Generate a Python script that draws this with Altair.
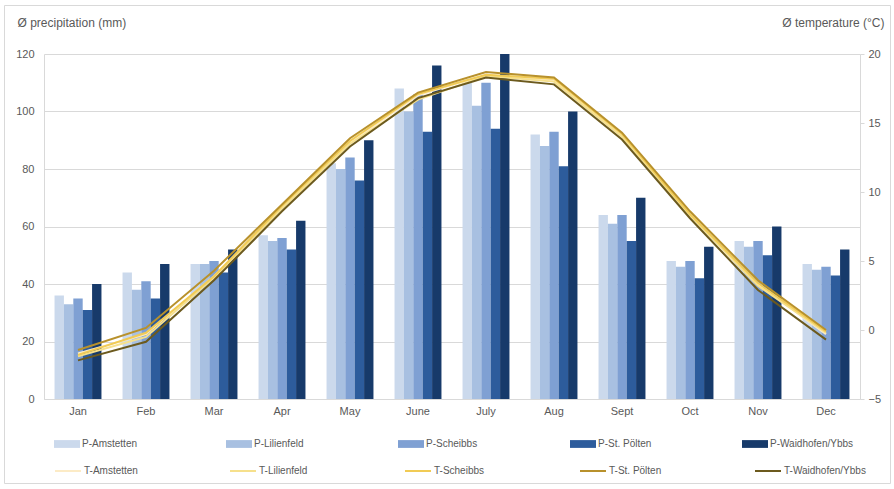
import altair as alt
import pandas as pd

months = ["Jan", "Feb", "Mar", "Apr", "May", "June", "July", "Aug", "Sept", "Oct", "Nov", "Dec"]
stations = ["Amstetten", "Lilienfeld", "Scheibbs", "St. Pölten", "Waidhofen/Ybbs"]

# precipitation (mm)
p_amstetten = [36, 44, 47, 57, 82, 108, 110, 92, 64, 48, 55, 47]
p_lilienfeld = [33, 38, 47, 55, 80, 100, 102, 88, 61, 46, 53, 45]
p_scheibbs = [35, 41, 48, 56, 84, 106, 110, 93, 64, 48, 55, 46]
p_stpoelten = [31, 35, 44, 52, 76, 93, 94, 81, 55, 42, 50, 43]
p_waidhofen = [40, 47, 52, 62, 90, 116, 120, 100, 70, 53, 60, 52]

# temperature (°C)
t_amstetten = [-1.7, -0.3, 3.9, 8.9, 13.6, 17.0, 18.5, 18.1, 14.1, 8.4, 3.3, -0.3]
t_lilienfeld = [-1.9, -0.5, 3.8, 8.8, 13.5, 16.7, 18.4, 18.0, 14.0, 8.3, 3.2, -0.2]
t_scheibbs = [-1.8, -0.2, 3.9, 9.0, 13.7, 17.1, 18.5, 18.2, 14.2, 8.4, 3.4, -0.1]
t_stpoelten = [-1.45, 0.15, 4.3, 9.1, 13.9, 17.2, 18.7, 18.3, 14.3, 8.6, 3.6, 0.0]
t_waidhofen = [-2.2, -0.85, 3.6, 8.6, 13.3, 16.8, 18.3, 17.8, 13.8, 8.1, 2.9, -0.7]

p_series = ["P-" + s for s in stations]
t_series = ["T-" + s for s in stations]
p_colors = ["#CBD9EC", "#A8C0E1", "#7FA0D3", "#2D5C9C", "#173A6A"]
t_colors = ["#FCEBC6", "#F6E08C", "#F1CB55", "#B8912C", "#6C5A1E"]

p_values = [p_amstetten, p_lilienfeld, p_scheibbs, p_stpoelten, p_waidhofen]
t_values = [t_amstetten, t_lilienfeld, t_scheibbs, t_stpoelten, t_waidhofen]

p_rows = []
for name, vals in zip(p_series, p_values):
    for m, v in zip(months, vals):
        p_rows.append({"month": m, "series": name, "value": v})
t_rows = []
for name, vals in zip(t_series, t_values):
    for m, v in zip(months, vals):
        t_rows.append({"month": m, "series": name, "temp": v})
df_p = pd.DataFrame(p_rows)
df_t = pd.DataFrame(t_rows)

txt = "#595959"
grid = "#D9D9D9"

x_enc = alt.X(
    "month:N", sort=months,
    scale=alt.Scale(paddingInner=0.31, paddingOuter=0.155),
    axis=alt.Axis(title=None, labelAngle=0, ticks=False, domainColor=grid,
                  labelColor=txt, labelFontSize=11, labelPadding=6),
)

bars = alt.Chart(df_p).mark_bar().encode(
    x=x_enc,
    xOffset=alt.XOffset("series:N", sort=p_series, scale=alt.Scale(domain=p_series, paddingInner=0, paddingOuter=0)),
    y=alt.Y("value:Q",
            scale=alt.Scale(domain=[0, 120], nice=False, zero=True),
            axis=alt.Axis(values=[0, 20, 40, 60, 80, 100, 120], title="Ø precipitation (mm)",
                          titleAngle=0, titleAlign="left", titleBaseline="middle",
                          titleX=-27, titleY=-32, titleFontSize=12, titleFontWeight="normal",
                          titleColor=txt, ticks=False, domainColor=grid, gridColor=grid,
                          labelColor=txt, labelFontSize=11, labelPadding=10)),
    fill=alt.Fill("series:N",
                  scale=alt.Scale(domain=p_series, range=p_colors),
                  legend=alt.Legend(orient="none", legendX=10, legendY=377, direction="horizontal",
                                    columns=5, title=None, gridAlign="all", columnPadding=60,
                                    symbolType="M-1,-0.3H1V0.3H-1Z", symbolSize=676,
                                    symbolStrokeWidth=0, labelOffset=2, padding=0,
                                    labelFontSize=10, labelColor=txt)),
)

lines = alt.Chart(df_t).mark_line(strokeWidth=2).encode(
    x=alt.X("month:N", sort=months),
    y=alt.Y("temp:Q",
            scale=alt.Scale(domain=[-5, 20], nice=False, zero=False),
            axis=alt.Axis(orient="right", values=[-5, 0, 5, 10, 15, 20], title="Ø temperature (°C)",
                          titleAngle=0, titleAlign="right", titleBaseline="middle",
                          titleX=24, titleY=-32, titleFontSize=12, titleFontWeight="normal",
                          titleColor=txt, grid=False, tickColor=grid, tickSize=4,
                          domainColor=grid, labelColor=txt, labelFontSize=11, labelPadding=4)),
    stroke=alt.Stroke("series:N",
                      scale=alt.Scale(domain=t_series, range=t_colors),
                      legend=alt.Legend(orient="none", legendX=10, legendY=403, direction="horizontal",
                                        columns=5, title=None, gridAlign="all", columnPadding=60,
                                        symbolType="stroke", symbolSize=676, symbolStrokeWidth=2,
                                        labelOffset=2, padding=0,
                                        labelFontSize=10, labelColor=txt)),
)

frame = alt.Chart(alt.Data(values=[{}])).mark_rect(
    fillOpacity=0, stroke=grid, strokeWidth=1
).encode(x=alt.value(-39.5), x2=alt.value(846.5), y=alt.value(-48.5), y2=alt.value(429.5))

chart = alt.layer(frame, bars, lines).resolve_scale(
    y="independent", fill="independent", stroke="independent"
).properties(
    width=816, height=345,
    autosize=alt.AutoSizeParams(type="none"),
    padding={"left": 44, "top": 54, "right": 34, "bottom": 90},
).configure(font="Liberation Sans").configure_view(stroke=None)

chart.save("out.html", embed_options={"renderer": "svg", "actions": False})
